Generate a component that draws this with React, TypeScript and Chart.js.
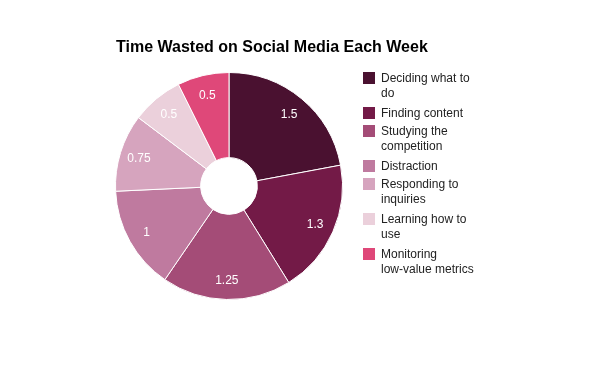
import React, { useEffect, useRef } from "react";
import { Chart, registerables } from "chart.js";

Chart.register(...registerables);

const titleText = "Time Wasted on Social Media Each Week";
const categories = [
  "Deciding what to do",
  "Finding content",
  "Studying the competition",
  "Distraction",
  "Responding to inquiries",
  "Learning how to use",
  "Monitoring low-value metrics",
];
const hoursPerWeek = [1.5, 1.3, 1.25, 1, 0.75, 0.5, 0.5];
const sliceColors = [
  "#4a1130",
  "#731a47",
  "#a44c77",
  "#bf7a9f",
  "#d6a4be",
  "#ebd0db",
  "#df4879",
];

const FONT = "Arial, 'Liberation Sans', sans-serif";

function wrapText(ctx: CanvasRenderingContext2D, text: string, maxWidth: number): string[] {
  const words = text.split(" ");
  const lines: string[] = [];
  let cur = "";
  for (const w of words) {
    const test = cur ? cur + " " + w : w;
    if (ctx.measureText(test).width > maxWidth && cur) {
      lines.push(cur);
      cur = w;
    } else {
      cur = test;
    }
  }
  if (cur) lines.push(cur);
  return lines;
}

const overlayPlugin = {
  id: "overlay",
  afterDatasetsDraw(chart: any) {
    const ctx: CanvasRenderingContext2D = chart.ctx;
    const meta = chart.getDatasetMeta(0);
    ctx.save();
    // slice labels
    ctx.font = `12px ${FONT}`;
    ctx.fillStyle = "#ffffff";
    ctx.textAlign = "center";
    ctx.textBaseline = "middle";
    meta.data.forEach((arc: any, i: number) => {
      const p = arc.getProps(["x", "y", "startAngle", "endAngle", "outerRadius"], true);
      const mid = (p.startAngle + p.endAngle) / 2;
      const r = p.outerRadius * 0.83;
      ctx.fillText(String(hoursPerWeek[i]), p.x + Math.cos(mid) * r, p.y + Math.sin(mid) * r + 1);
    });

    // title
    ctx.font = `bold 16px ${FONT}`;
    ctx.fillStyle = "#000000";
    ctx.textAlign = "left";
    ctx.textBaseline = "alphabetic";
    ctx.fillText(titleText, 116, 52);

    // legend
    ctx.font = `12px ${FONT}`;
    let top = 72;
    categories.forEach((label, i) => {
      const lines = wrapText(ctx, label, 100);
      ctx.fillStyle = sliceColors[i];
      ctx.fillRect(363, top, 12, 12);
      ctx.fillStyle = "#222222";
      lines.forEach((ln, j) => {
        ctx.fillText(ln, 381, top + 10 + j * 15);
      });
      top += 18 + (lines.length - 1) * 17;
    });
    ctx.restore();
  },
};

export default function App() {
  const ref = useRef<HTMLCanvasElement>(null);
  useEffect(() => {
    if (!ref.current) return;
    const chart = new Chart(ref.current, {
      type: "doughnut",
      data: {
        labels: categories,
        datasets: [
          {
            data: hoursPerWeek,
            backgroundColor: sliceColors,
            borderColor: "#ffffff",
            borderWidth: 1,
          },
        ],
      },
      options: {
        responsive: false,
        animation: false,
        cutout: "25%",
        layout: { padding: { left: 115, top: 72, right: 257, bottom: 71 } },
        plugins: {
          legend: { display: false },
          title: { display: false },
          tooltip: { enabled: false },
        },
      },
      plugins: [overlayPlugin],
    });
    return () => chart.destroy();
  }, []);
  return (
    <div style={{ position: "fixed", left: 0, top: 0, width: 600, height: 371, background: "#fff" }}>
      <canvas ref={ref} width={600} height={371} style={{ width: 600, height: 371 }} />
    </div>
  );
}
